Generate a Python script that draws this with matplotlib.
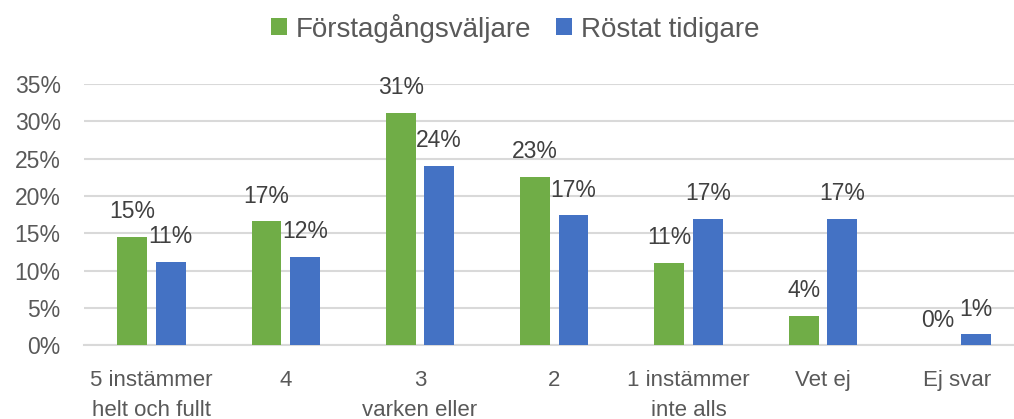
import numpy as np
import matplotlib.pyplot as plt

plt.rcParams['font.family'] = ['Liberation Sans', 'DejaVu Sans']

kategorier = ["5 instämmer\nhelt och fullt", "4", "3\nvarken eller", "2",
              "1 instämmer\ninte alls", "Vet ej", "Ej svar"]
forstagang = [14.55, 16.6, 31.15, 22.6, 11.05, 3.97, 0.0]
tidigare = [11.2, 11.8, 24.05, 17.4, 16.95, 16.95, 1.45]
etiketter_forsta = ["15%", "17%", "31%", "23%", "11%", "4%", "0%"]
etiketter_tidigare = ["11%", "12%", "24%", "17%", "17%", "17%", "1%"]
serier = ["Förstagångsväljare", "Röstat tidigare"]

gron = "#70AD47"
bla = "#4472C4"
textfarg = "#595959"

fig = plt.figure(figsize=(10.14, 4.19), dpi=100)
ax = fig.add_axes([84.3 / 1014, 1 - 345.3 / 419, 940 / 1014, 261.3 / 419])

X = np.arange(len(kategorier))
b1 = ax.bar(X - 0.143, forstagang, width=0.223, color=gron, label=serier[0], zorder=3)
b2 = ax.bar(X + 0.143, tidigare, width=0.223, color=bla, label=serier[1], zorder=3)

for rects, labs in ((b1, etiketter_forsta), (b2, etiketter_tidigare)):
    for r, lab in zip(rects, labs):
        ax.annotate(lab, (r.get_x() + r.get_width() / 2, r.get_height()),
                    xytext=(0, 13.5), textcoords="offset points",
                    ha="center", va="baseline", fontsize=16.5, color="#404040")

ax.set_xlim(-0.5, len(kategorier) - 0.5)
ax.set_ylim(0, 35)
ax.set_yticks(np.arange(0, 36, 5))
ax.set_yticklabels([f"{v}%" for v in range(0, 36, 5)])
ax.set_xticks(X)
ax.set_xticklabels(kategorier, linespacing=1.55)
ax.tick_params(axis="both", length=0, labelsize=16, labelcolor=textfarg)
ax.tick_params(axis="y", pad=17, labelsize=16.5)
ax.tick_params(axis="x", pad=18)
ax.yaxis.grid(True, color="#D9D9D9", linewidth=1.5, zorder=0)
for s in ["top", "right", "left"]:
    ax.spines[s].set_visible(False)
ax.spines["bottom"].set_color("#D9D9D9")
ax.spines["bottom"].set_linewidth(1.5)

fig.legend(loc="center", bbox_to_anchor=(515 / 1014, 1 - 28 / 419), ncol=2,
           frameon=False, fontsize=20, labelcolor=textfarg, handlelength=0.58,
           handleheight=0.58, handletextpad=0.32, columnspacing=0.9)

plt.savefig("out.png", dpi=100)
